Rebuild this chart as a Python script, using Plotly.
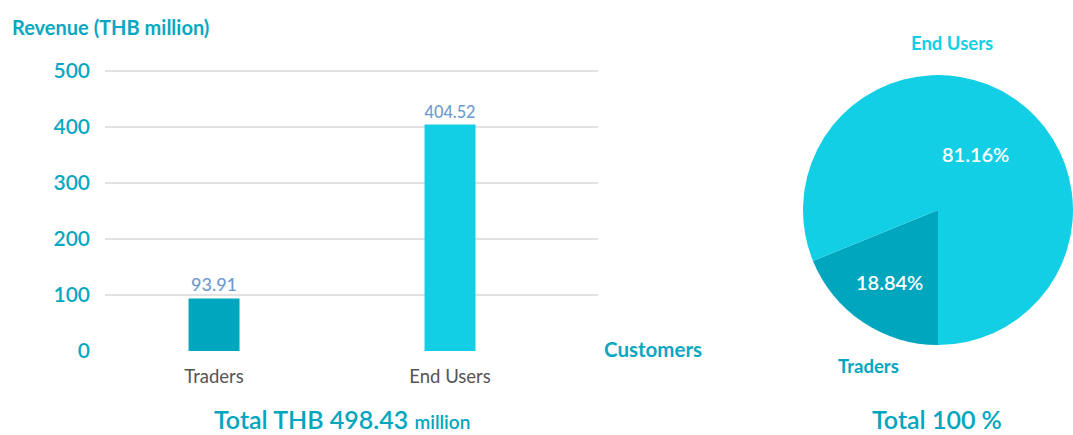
import plotly.graph_objects as go

# Revenue by customer group (THB million)
categories = ["Traders", "End Users"]
revenue = [93.91, 404.52]
shares = [18.84, 81.16]
y_ticks = [0, 100, 200, 300, 400, 500]
total_revenue = "498.43"

dark_teal = "#00A6BE"
light_cyan = "#13CFE6"
label_teal = "#0AA8C0"
value_blue = "#6C9BD2"
FONT = "Lato"

W, H = 1073, 435

fig = go.Figure()

fig.add_trace(go.Bar(
    x=categories,
    y=revenue,
    marker=dict(color=[dark_teal, light_cyan], line=dict(width=0)),
    width=0.216,
    text=[f"{v:.2f}" for v in revenue],
    textposition="outside",
    textfont=dict(family=FONT, size=18, color=value_blue, weight=500),
    cliponaxis=False,
    showlegend=False,
    hoverinfo="skip",
))

fig.add_trace(go.Pie(
    labels=categories,
    values=shares,
    sort=False,
    direction="clockwise",
    rotation=180,
    marker=dict(colors=[dark_teal, light_cyan], line=dict(width=0)),
    texttemplate="%{value:.2f}%",
    textposition="inside",
    insidetextorientation="horizontal",
    textfont=dict(family=FONT, size=20, color="white", weight=600),
    domain=dict(x=[(938 - 135) / W, 1.0], y=[(225 - 135) / H, (225 + 135) / H]),
    showlegend=False,
    hoverinfo="skip",
))

fig.update_layout(
    width=W,
    height=H,
    margin=dict(l=0, r=0, t=0, b=0, autoexpand=False),
    paper_bgcolor="white",
    plot_bgcolor="white",
    font=dict(family=FONT),
    xaxis=dict(
        domain=[105 / W, 598 / W],
        range=[-0.462, 1.627],
        automargin=False,
        showgrid=False,
        showline=False,
        zeroline=False,
        tickfont=dict(family=FONT, size=18.5, color="#555555"),
        ticklabelstandoff=12,
    ),
    yaxis=dict(
        domain=[(H - 351.84) / H, (H - 69.88) / H],
        range=[-1.5, 502],
        automargin=False,
        tickvals=y_ticks,
        showgrid=True,
        gridcolor="#E2E2E2",
        gridwidth=1.5,
        showline=False,
        zeroline=False,
        tickfont=dict(family=FONT, size=21, color=label_teal, weight=600),
        ticklabelstandoff=14,
    ),
)

annotations = [
    dict(text="<b>Revenue (THB million)</b>", x=10, y=H - 27,
         xanchor="left", yanchor="middle",
         font=dict(family=FONT, size=20, color=label_teal)),
    dict(text="<b>Customers</b>", x=602, y=H - 349,
         xanchor="left", yanchor="middle",
         font=dict(family=FONT, size=20.5, color=label_teal)),
    dict(text="Total THB " + total_revenue + " <span style='font-size:19px'>million</span>",
         x=342, y=H - 419, xanchor="center", yanchor="middle",
         font=dict(family=FONT, size=25, color=dark_teal, weight=600)),
    dict(text="Total 100 %", x=937, y=H - 419, xanchor="center", yanchor="middle",
         font=dict(family=FONT, size=25, color=dark_teal, weight=600)),
    dict(text="<b>End Users</b>", x=952, y=H - 43, xanchor="center", yanchor="middle",
         font=dict(family=FONT, size=18.5, color=light_cyan)),
    dict(text="<b>Traders</b>", x=868, y=H - 366, xanchor="center", yanchor="middle",
         font=dict(family=FONT, size=18.5, color=dark_teal)),
]
for a in annotations:
    a.update(xref="paper", yref="paper", showarrow=False)
    a["x"] = a["x"] / W
    a["y"] = a["y"] / H
fig.update_layout(annotations=annotations)

fig.write_html("out.html")
